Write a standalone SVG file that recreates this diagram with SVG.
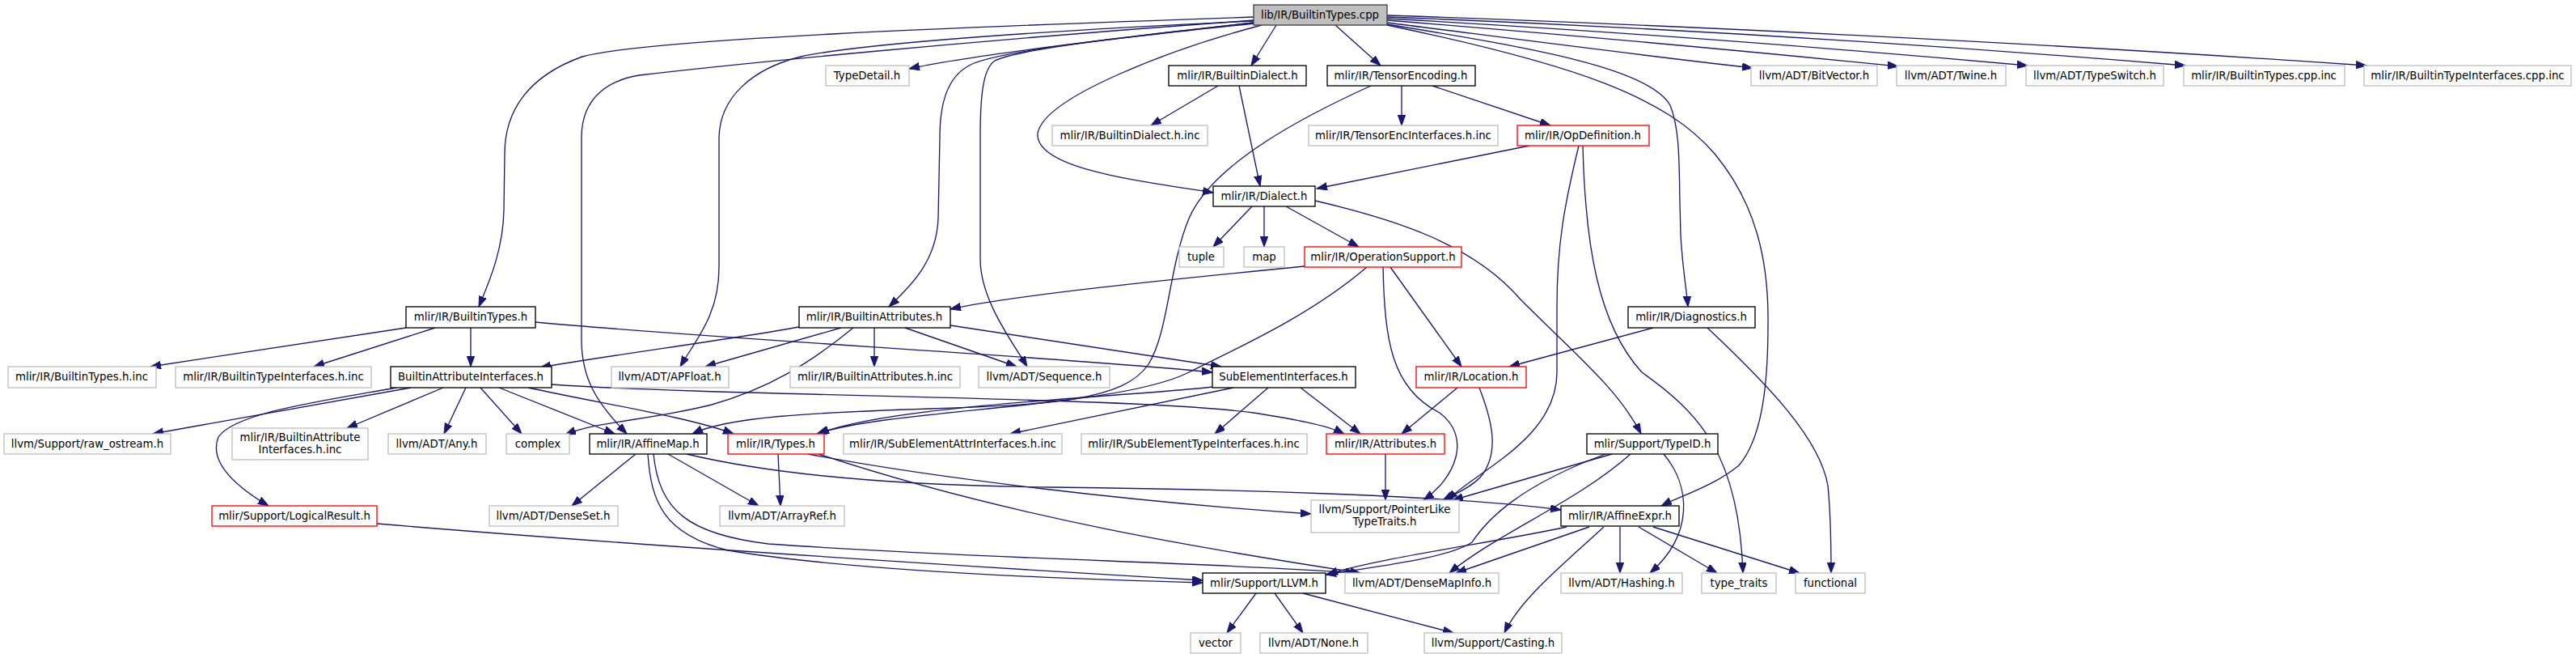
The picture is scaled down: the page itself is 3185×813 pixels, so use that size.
<svg xmlns="http://www.w3.org/2000/svg" width="3185" height="813" viewBox="0 0 3185 813">
<style>
rect{fill:#fff;stroke-width:1.33}
.g rect{stroke:#bfbfbf}
.k rect{stroke:#000}
.r rect{stroke:#ff0000}
.root rect{fill:#bfbfbf;stroke:#404040}
text{font-family:"DejaVu Sans","Liberation Sans",sans-serif;font-size:13.3px;text-anchor:middle;fill:#000}
#edges path{fill:none;stroke:#191970;stroke-width:1.33;marker-end:url(#a)}
</style>
<defs>
<marker id="a" markerUnits="userSpaceOnUse" markerWidth="15" markerHeight="11" refX="13" refY="4.7" orient="auto"><path d="M0,0 L13,4.7 L0,9.4 z" fill="#191970" stroke="#191970" stroke-width="1"/></marker>
</defs>
<rect x="0" y="0" width="3185" height="813" style="fill:#fff;stroke:none"/>
<g id="edges">
<path d="M1550,21 C1200,33 800,48 720,70 C650,95 624,140 624,190 L623,260 C622,310 604,350 592,379"/>
<path d="M1550,25 C1200,50 900,80 790,93 C760,98 719,115 719,170 L719,420 C719,470 740,500 775,536"/>
<path d="M1550,26 C1250,40 1060,55 990,70 C930,85 890,120 889,170 L889,330 C889,390 860,420 841,453"/>
<path d="M1550,28 C1400,45 1200,68 1124,85"/>
<path d="M1550,28 C1350,50 1230,65 1200,80 C1170,95 1162,130 1162,170 L1160,270 C1158,320 1130,350 1099,379"/>
<path d="M1551,29 C1400,45 1260,60 1230,75 C1215,85 1212,120 1212,170 L1212,320 C1212,370 1250,420 1270,453"/>
<path d="M1560,31 C1450,60 1290,120 1283,165 C1280,210 1420,225 1500,238"/>
<path d="M1578,31 L1547,81"/>
<path d="M1651,31 L1707,81"/>
<path d="M1715,28 C1850,45 2000,65 2167,84"/>
<path d="M1715,25 C1900,40 2150,62 2347,82"/>
<path d="M1715,23 C1950,36 2250,58 2507,81"/>
<path d="M1715,21 C2050,34 2400,56 2702,81"/>
<path d="M1715,19 C2100,32 2550,55 2926,81"/>
<path d="M1715,30 C1900,60 2040,85 2065,130 C2077,160 2076,200 2077,250 L2078,290 C2080,330 2085,355 2087,379"/>
<path d="M1715,31 C1950,80 2060,120 2120,190 C2170,250 2187,320 2186,400 C2186,470 2180,540 2150,575 C2120,600 2080,612 2054,625"/>
<path d="M1506,106 L1423,155"/>
<path d="M1532,106 L1558,230"/>
<path d="M1733,106 L1733,155"/>
<path d="M1771,106 L1917,155"/>
<path d="M1695,106 C1620,140 1500,200 1470,270 C1445,330 1445,410 1420,450 C1390,495 1300,500 1150,505 C1000,510 900,515 856,536"/>
<path d="M1891,180 L1628,233"/>
<path d="M1952,180 C1935,250 1925,300 1925,380 L1925,460 C1925,540 1830,580 1789,618"/>
<path d="M1957,180 C1960,300 1975,400 2030,460 C2100,510 2150,560 2155,708"/>
<path d="M1548,255 L1500,305"/>
<path d="M1563,255 L1563,305"/>
<path d="M1590,255 L1680,305"/>
<path d="M1626,248 C1720,270 1820,300 1880,370 C1950,440 2000,480 2029,536"/>
<path d="M1613,329 C1450,345 1250,365 1175,382"/>
<path d="M1719,330 L1807,453"/>
<path d="M1710,330 C1712,420 1720,480 1780,510 C1820,540 1800,590 1760,618"/>
<path d="M1690,330 C1620,390 1530,430 1470,460 C1380,505 1100,505 1010,536"/>
<path d="M1499,478 C1400,490 1100,500 1012,536"/>
<path d="M1525,479 L1249,536"/>
<path d="M1568,479 L1502,536"/>
<path d="M1608,479 L1682,536"/>
<path d="M1802,479 L1733,536"/>
<path d="M1829,479 C1845,520 1855,560 1830,590 C1815,605 1795,612 1784,618"/>
<path d="M2044,405 L1866,453"/>
<path d="M2111,405 C2180,470 2250,540 2260,600 C2264,640 2264,680 2264,708"/>
<path d="M502,405 L186,453"/>
<path d="M538,405 L388,453"/>
<path d="M582,405 L582,453"/>
<path d="M662,398 C900,420 1300,440 1499,460"/>
<path d="M988,404 C900,420 760,438 668,454"/>
<path d="M1040,405 L872,453"/>
<path d="M1055,405 C1000,450 950,480 880,500 C800,520 740,520 699,537"/>
<path d="M1081,405 L1081,453"/>
<path d="M1119,405 L1257,453"/>
<path d="M1175,402 L1510,453"/>
<path d="M508,479 L189,536"/>
<path d="M490,479 C400,495 290,510 270,540 C258,570 290,600 332,625"/>
<path d="M548,479 L429,529"/>
<path d="M576,479 L549,536"/>
<path d="M594,479 L645,536"/>
<path d="M617,479 L760,536"/>
<path d="M653,479 C750,500 850,515 907,536"/>
<path d="M682,475 C900,490 1400,490 1550,510 C1600,518 1640,525 1662,536"/>
<path d="M786,561 L707,625"/>
<path d="M826,561 L938,625"/>
<path d="M849,561 C950,585 1100,600 1300,602 C1500,604 1800,612 1930,630"/>
<path d="M801,561 C805,620 820,660 900,680 C1050,705 1300,715 1487,720"/>
<path d="M808,561 C815,630 850,660 950,672 C1200,690 1500,695 1677,708"/>
<path d="M962,561 L965,625"/>
<path d="M999,561 C1150,590 1400,620 1621,635"/>
<path d="M1012,561 C1250,640 1500,680 1682,708"/>
<path d="M466,647 C800,675 1200,700 1487,717"/>
<path d="M1713,561 L1713,618"/>
<path d="M1993,561 L1796,618"/>
<path d="M1985,561 C1880,600 1840,640 1820,670 C1790,690 1700,700 1639,710"/>
<path d="M2016,561 C1950,620 1850,660 1792,708"/>
<path d="M2057,561 C2090,600 2095,660 2040,708"/>
<path d="M1937,651 C1850,670 1700,690 1641,710"/>
<path d="M1965,651 L1800,708"/>
<path d="M1983,651 C1930,700 1880,740 1860,782"/>
<path d="M2003,651 L2003,708"/>
<path d="M2026,651 L2123,708"/>
<path d="M2044,651 L2225,708"/>
<path d="M1553,733 L1517,782"/>
<path d="M1576,733 L1611,782"/>
<path d="M1611,733 L1797,782"/>
</g>
<g id="n_root" class="root"><rect x="1550" y="6" width="165" height="25"/><text x="1632" y="23">lib/IR/BuiltinTypes.cpp</text></g>
<g id="n_typedetail" class="g"><rect x="1021" y="81" width="103" height="25"/><text x="1072" y="98">TypeDetail.h</text></g>
<g id="n_builtindialect" class="k"><rect x="1445" y="81" width="170" height="25"/><text x="1530" y="98">mlir/IR/BuiltinDialect.h</text></g>
<g id="n_tensorenc" class="k"><rect x="1641" y="81" width="183" height="25"/><text x="1732" y="98">mlir/IR/TensorEncoding.h</text></g>
<g id="n_bitvector" class="g"><rect x="2165" y="81" width="156" height="25"/><text x="2243" y="98">llvm/ADT/BitVector.h</text></g>
<g id="n_twine" class="g"><rect x="2345" y="81" width="135" height="25"/><text x="2412" y="98">llvm/ADT/Twine.h</text></g>
<g id="n_typeswitch" class="g"><rect x="2505" y="81" width="170" height="25"/><text x="2590" y="98">llvm/ADT/TypeSwitch.h</text></g>
<g id="n_btcppinc" class="g"><rect x="2700" y="81" width="199" height="25"/><text x="2799" y="98">mlir/IR/BuiltinTypes.cpp.inc</text></g>
<g id="n_bticppinc" class="g"><rect x="2923" y="81" width="256" height="25"/><text x="3051" y="98">mlir/IR/BuiltinTypeInterfaces.cpp.inc</text></g>
<g id="n_bdinc" class="g"><rect x="1301" y="155" width="192" height="25"/><text x="1397" y="172">mlir/IR/BuiltinDialect.h.inc</text></g>
<g id="n_teinc" class="g"><rect x="1618" y="155" width="234" height="25"/><text x="1735" y="172">mlir/IR/TensorEncInterfaces.h.inc</text></g>
<g id="n_opdef" class="r"><rect x="1876" y="155" width="163" height="25"/><text x="1957" y="172">mlir/IR/OpDefinition.h</text></g>
<g id="n_dialect" class="k"><rect x="1500" y="230" width="126" height="25"/><text x="1563" y="247">mlir/IR/Dialect.h</text></g>
<g id="n_tuple" class="g"><rect x="1458" y="305" width="55" height="25"/><text x="1485" y="322">tuple</text></g>
<g id="n_map" class="g"><rect x="1538" y="305" width="50" height="25"/><text x="1563" y="322">map</text></g>
<g id="n_opsupport" class="r"><rect x="1613" y="305" width="194" height="25"/><text x="1710" y="322">mlir/IR/OperationSupport.h</text></g>
<g id="n_btypes" class="k"><rect x="502" y="379" width="160" height="26"/><text x="582" y="396">mlir/IR/BuiltinTypes.h</text></g>
<g id="n_battrs" class="k"><rect x="988" y="379" width="187" height="26"/><text x="1081" y="396">mlir/IR/BuiltinAttributes.h</text></g>
<g id="n_diag" class="k"><rect x="2013" y="379" width="157" height="26"/><text x="2091" y="396">mlir/IR/Diagnostics.h</text></g>
<g id="n_btinc" class="g"><rect x="10" y="453" width="183" height="26"/><text x="101" y="470">mlir/IR/BuiltinTypes.h.inc</text></g>
<g id="n_btiinc" class="g"><rect x="217" y="453" width="242" height="26"/><text x="338" y="470">mlir/IR/BuiltinTypeInterfaces.h.inc</text></g>
<g id="n_bai" class="k"><rect x="483" y="453" width="199" height="26"/><text x="582" y="470">BuiltinAttributeInterfaces.h</text></g>
<g id="n_apfloat" class="g"><rect x="756" y="453" width="145" height="26"/><text x="828" y="470">llvm/ADT/APFloat.h</text></g>
<g id="n_bainc" class="g"><rect x="977" y="453" width="210" height="26"/><text x="1082" y="470">mlir/IR/BuiltinAttributes.h.inc</text></g>
<g id="n_sequence" class="g"><rect x="1210" y="453" width="162" height="26"/><text x="1291" y="470">llvm/ADT/Sequence.h</text></g>
<g id="n_subelem" class="k"><rect x="1499" y="453" width="177" height="26"/><text x="1587" y="470">SubElementInterfaces.h</text></g>
<g id="n_location" class="r"><rect x="1751" y="453" width="136" height="26"/><text x="1819" y="470">mlir/IR/Location.h</text></g>
<g id="n_rawostream" class="g"><rect x="5" y="536" width="206" height="25"/><text x="108" y="553">llvm/Support/raw_ostream.h</text></g>
<g id="n_baiinc" class="g"><rect x="287" y="529" width="168" height="39"/><text x="371" y="545">mlir/IR/BuiltinAttribute</text><text x="371" y="560">Interfaces.h.inc</text></g>
<g id="n_any" class="g"><rect x="480" y="536" width="121" height="25"/><text x="540" y="553">llvm/ADT/Any.h</text></g>
<g id="n_complex" class="g"><rect x="626" y="536" width="78" height="25"/><text x="665" y="553">complex</text></g>
<g id="n_affinemap" class="k"><rect x="729" y="536" width="145" height="25"/><text x="801" y="553">mlir/IR/AffineMap.h</text></g>
<g id="n_types" class="r"><rect x="900" y="536" width="119" height="25"/><text x="959" y="553">mlir/IR/Types.h</text></g>
<g id="n_seainc" class="g"><rect x="1043" y="536" width="270" height="25"/><text x="1178" y="553">mlir/IR/SubElementAttrInterfaces.h.inc</text></g>
<g id="n_setinc" class="g"><rect x="1337" y="536" width="279" height="25"/><text x="1476" y="553">mlir/IR/SubElementTypeInterfaces.h.inc</text></g>
<g id="n_attributes" class="r"><rect x="1640" y="536" width="146" height="25"/><text x="1713" y="553">mlir/IR/Attributes.h</text></g>
<g id="n_typeid" class="k"><rect x="1962" y="536" width="162" height="25"/><text x="2043" y="553">mlir/Support/TypeID.h</text></g>
<g id="n_logical" class="r"><rect x="262" y="625" width="204" height="25"/><text x="364" y="642">mlir/Support/LogicalResult.h</text></g>
<g id="n_denseset" class="g"><rect x="605" y="625" width="159" height="25"/><text x="684" y="642">llvm/ADT/DenseSet.h</text></g>
<g id="n_arrayref" class="g"><rect x="890" y="625" width="154" height="25"/><text x="967" y="642">llvm/ADT/ArrayRef.h</text></g>
<g id="n_pointerlike" class="g"><rect x="1621" y="618" width="183" height="40"/><text x="1712" y="634">llvm/Support/PointerLike</text><text x="1712" y="649">TypeTraits.h</text></g>
<g id="n_affineexpr" class="k"><rect x="1930" y="625" width="146" height="25"/><text x="2003" y="642">mlir/IR/AffineExpr.h</text></g>
<g id="n_llvm" class="k"><rect x="1487" y="708" width="152" height="25"/><text x="1563" y="725">mlir/Support/LLVM.h</text></g>
<g id="n_densemapinfo" class="g"><rect x="1663" y="708" width="190" height="25"/><text x="1758" y="725">llvm/ADT/DenseMapInfo.h</text></g>
<g id="n_hashing" class="g"><rect x="1930" y="708" width="150" height="25"/><text x="2005" y="725">llvm/ADT/Hashing.h</text></g>
<g id="n_typetraits" class="g"><rect x="2104" y="708" width="92" height="25"/><text x="2150" y="725">type_traits</text></g>
<g id="n_functional" class="g"><rect x="2220" y="708" width="86" height="25"/><text x="2263" y="725">functional</text></g>
<g id="n_vector" class="g"><rect x="1472" y="782" width="62" height="25"/><text x="1503" y="799">vector</text></g>
<g id="n_none" class="g"><rect x="1558" y="782" width="133" height="25"/><text x="1624" y="799">llvm/ADT/None.h</text></g>
<g id="n_casting" class="g"><rect x="1761" y="782" width="170" height="25"/><text x="1846" y="799">llvm/Support/Casting.h</text></g>
</svg>
